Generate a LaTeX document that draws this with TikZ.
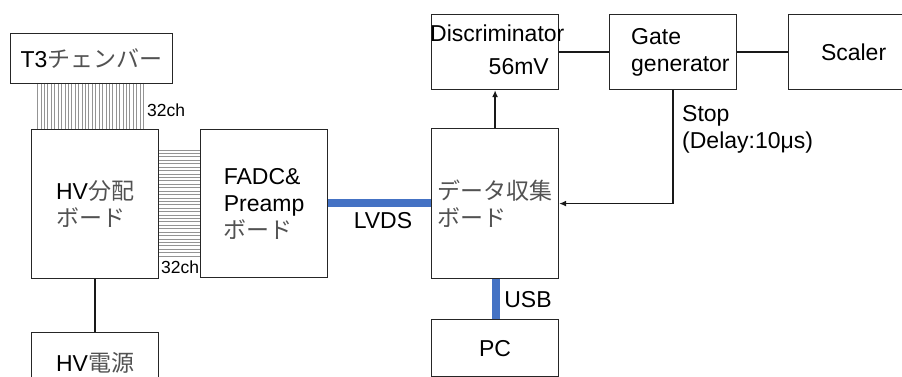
\documentclass[tikz,border=0pt]{standalone}
\usepackage{fontspec}
\setmainfont{Liberation Sans}
\newfontfamily\jpfont{Noto Sans CJK JP}
\usetikzlibrary{arrows.meta}
\definecolor{buscol}{HTML}{4472C4}
\definecolor{wirecol}{gray}{0.58}
\newcommand{\jp}[1]{{\jpfont\color{black!68}#1}}

\begin{document}
\begin{tikzpicture}[x=1pt,y=-1pt,
  box/.style={draw=black!85, line width=1.2pt, inner sep=0pt, anchor=north west,
              font=\fontsize{23}{27}\selectfont, align=left},
  txt/.style={inner sep=0pt, font=\fontsize{23}{27}\selectfont, align=left},
  small/.style={inner sep=0pt, font=\fontsize{17.5}{20}\selectfont},
  conn/.style={line width=1.3pt, black!90},
  bus/.style={draw=buscol, line width=8pt},
  wire/.style={draw=wirecol, line width=0.7pt}]
\useasboundingbox (0,0) rectangle (902,377);

% signal cables (32 channels each)
\foreach \i in {0,...,31}
  \draw[wire] ({37.5+\i*3.42},83) -- ++(0,46);
\foreach \i in {0,...,31}
  \draw[wire] (158,{150+\i*3.42}) -- (200,{150+\i*3.42});

% blue data links
\coordinate (lvdsA) at (327,203);
\coordinate (lvdsB) at (431,203);
\coordinate (usbA) at (496,278);
\coordinate (usbB) at (496,319);
\draw[bus] (lvdsA) -- (lvdsB);
\draw[bus] (usbA) -- (usbB);

% boxes
\node[box, minimum width=162pt, minimum height=50pt] (t3) at (10,33) {T3\jp{チェンバー}};
\node[box, minimum width=127pt, minimum height=149pt] (hvd) at (31,129) {HV\jp{分配}\\\jp{ボード}};
\node[box, minimum width=127pt, minimum height=148pt] (fadc) at (200,129) {FADC\&\\Preamp\\\jp{ボード}};
\node[box, minimum width=127pt, minimum height=60pt] (hvps) at (31,332) {\raisebox{-1pt}{HV\jp{電源}}};
\node[box, minimum width=127pt, minimum height=75pt] (disc) at (431,14) {};
\node[box, minimum width=127pt, minimum height=75pt] (gate) at (609,14) {};
\node[box, minimum width=130pt, minimum height=75pt] (scal) at (788,14) {Scaler};
\node[box, minimum width=127pt, minimum height=150pt] (daq) at (431,128) {\jp{データ収集}\\\jp{ボード}};
\node[box, minimum width=127pt, minimum height=57pt] (pc) at (431,319) {PC};

% texts placed off-centre in their boxes
\node[txt, anchor=west] (disctxt) at (430,33) {Discriminator};
\node[txt, anchor=east] (thrtxt) at (549,67) {56mV};
\node[txt, anchor=west] (gatetxt) at (631,52.5) {Gate\\generator};

% connectors
\draw[conn] (hvd.south) -- (hvps.north);
\draw[conn] (disc.east) -- (gate.west);
\draw[conn] (gate.east) -- (scal.west);
\draw[conn, -{Latex[length=7pt,width=6pt]}] (daq.north) -- (disc.south);
\draw[conn, -{Latex[length=7pt,width=6pt]}] (gate.south) |- (daq.east);

% labels
\node[small, anchor=west] (ch1) at (147,110) {32ch};
\node[small, anchor=west] (ch2) at (161,267) {32ch};
\node[txt] (lvds) at (383,221) {LVDS};
\node[txt] (usb) at (528,300) {USB};
\node[txt, anchor=west] (stop) at (682,129) {Stop\\(Delay:10μs)};
\end{tikzpicture}
\end{document}
